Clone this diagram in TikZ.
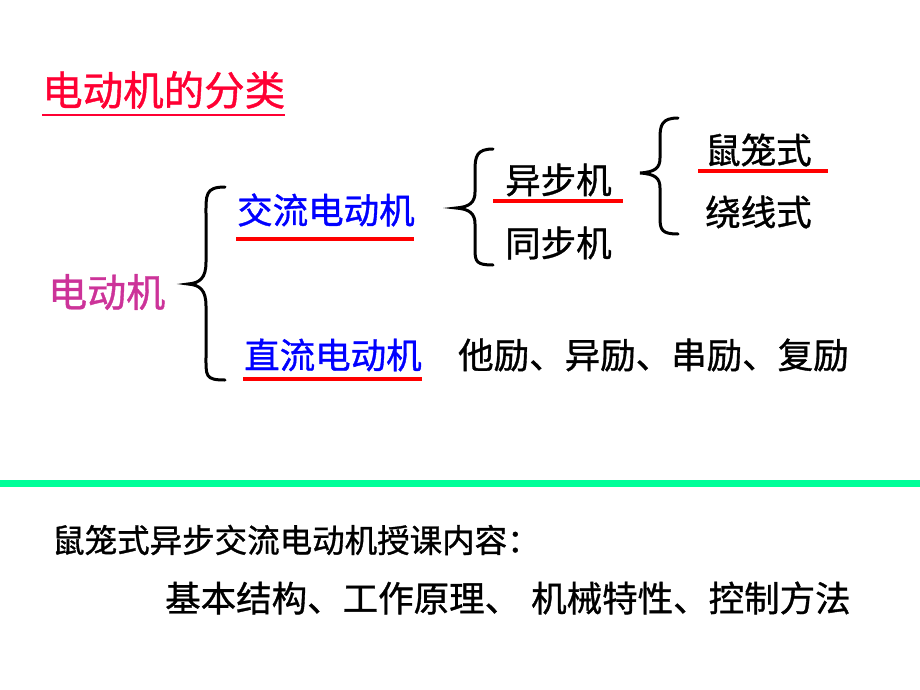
\documentclass[tikz,border=0pt]{standalone}
\usepackage{fontspec}
\newfontfamily\cjk[FakeBold=1]{Noto Sans CJK SC}
\definecolor{titlered}{RGB}{255,0,51}
\definecolor{motormag}{RGB}{204,51,153}
\definecolor{sepgreen}{RGB}{0,255,153}
\begin{document}
\begin{tikzpicture}[x=1pt,y=-1pt,
	txt/.style={inner sep=0pt,anchor=west,font=\cjk\fontsize{35.5}{40}\selectfont},
	uline/.style={red,line width=3.5pt},
	brc/.style={line width=3pt,line cap=round}]
	\useasboundingbox (0,0) rectangle (920,690);
	% title
	\node[txt,titlered,font=\cjk\fontsize{40.5}{44}\selectfont] (title) at (42,90) {电动机的分类};
	\draw[titlered,line width=2.5pt] ([yshift=-6pt]title.south west)--([yshift=-6pt]title.south east);
	% left part
	\node[txt,motormag,font=\cjk\fontsize{39}{44}\selectfont] (motor) at (48,292) {电动机};
	\draw[brc] (225,187) .. controls (205,187) and (206,195) .. (206,215)--(206,262) .. controls (206,278) and (200,283) .. (188,284)
		.. controls (200,285) and (206,290) .. (206,306)--(206,356) .. controls (206,376) and (205,380) .. (225,380);
	\node[txt,blue] (ac) at (237,210) {交流电动机};
	\draw[uline] (236,239)--(414,239);
	\node[txt,blue] (dc) at (244,355) {直流电动机};
	\draw[uline] (243,379)--(422,379);
	\node[txt] (dctypes) at (458,355) {他励、异励、串励、复励};
	% asynchronous / synchronous
	\draw[brc] (493,149) .. controls (477,149) and (475,156) .. (475,170)--(475,192) .. controls (475,202) and (470,207) .. (456,208)
		.. controls (470,209) and (475,214) .. (475,224)--(475,250) .. controls (475,262) and (477,265) .. (493,265);
	\node[txt] (async) at (505,180) {异步机};
	\draw[uline] (493,201)--(623,201);
	\node[txt] (sync) at (505,243) {同步机};
	% rotor types
	\draw[brc] (678,118) .. controls (662,118) and (660,125) .. (660,138)--(660,158) .. controls (660,168) and (655,172) .. (640,173)
		.. controls (655,174) and (660,178) .. (660,188)--(660,218) .. controls (660,230) and (662,234) .. (678,234);
	\node[txt] (squirrel) at (705,150) {鼠笼式};
	\draw[uline] (698,171)--(828,171);
	\node[txt] (wound) at (705,212) {绕线式};
	% separator
	\draw[sepgreen,line width=7pt] (0,483)--(920,483);
	\node[txt,font=\cjk\fontsize{32.5}{38}\selectfont] (course) at (52,540) {鼠笼式异步交流电动机授课内容：};
	\node[txt] (topics) at (165,598) {基本结构、工作原理、\hspace{11pt}机械特性、控制方法};
\end{tikzpicture}
\end{document}
